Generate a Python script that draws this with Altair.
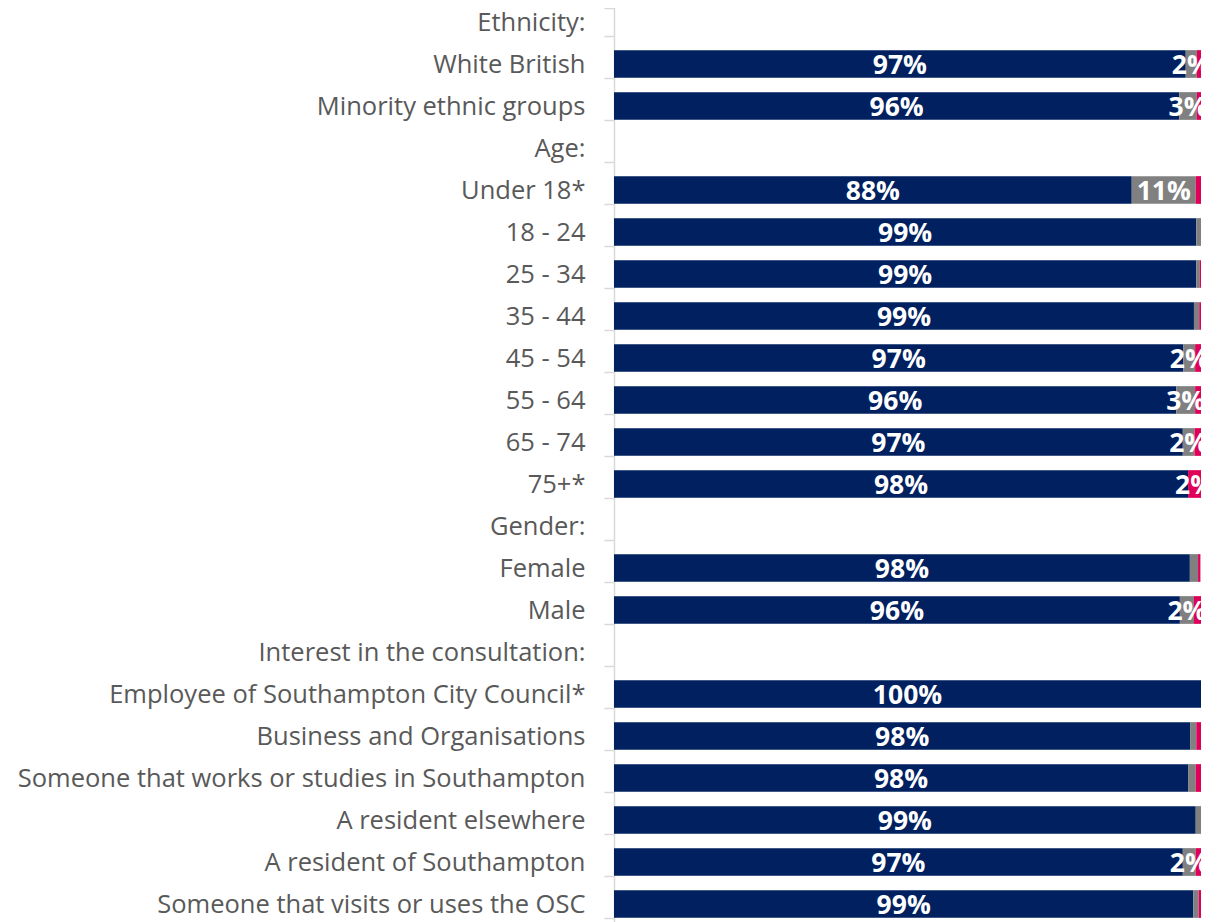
import altair as alt
import pandas as pd

categories = [
    "Ethnicity:", "White British", "Minority ethnic groups",
    "Age:", "Under 18*", "18 - 24", "25 - 34", "35 - 44", "45 - 54", "55 - 64", "65 - 74", "75+*",
    "Gender:", "Female", "Male ",
    "Interest in the consultation:", "Employee of Southampton City Council*", "Business and Organisations",
    "Someone that works or studies in Southampton", "A resident elsewhere", "A resident of Southampton",
    "Someone that visits or uses the OSC",
]
navy = [None, 97.4, 96.3, None, 88.2, 99.2, 99.2, 98.8, 97.0, 95.8, 96.9, 97.8,
        None, 98.1, 96.4, None, 100.0, 98.2, 97.8, 99.1, 96.9, 98.7]
gray = [None, 1.9, 3.0, None, 10.9, 0.8, 0.6, 0.9, 2.0, 3.2, 2.0, 0.0,
        None, 1.4, 2.4, None, 0.0, 1.0, 1.3, 0.9, 2.2, 0.9]
pink = [None, 0.7, 0.7, None, 0.9, 0.0, 0.2, 0.3, 1.0, 1.0, 1.1, 2.2,
        None, 0.4, 1.2, None, 0.0, 0.8, 0.9, 0.0, 0.9, 0.4]

seg_names = ["a", "b", "c"]
seg_colors = ["#002060", "#808080", "#E0005A"]

rows = []
for i, cat in enumerate(categories):
    if navy[i] is None:
        continue
    start = 0.0
    for k, vals in enumerate([navy, gray, pink]):
        v = vals[i]
        if v and v > 0:
            r = int(v + 0.5)
            label = f"{r}%" if (k == 0 or r >= 2) else ""
            rows.append({"cat": cat, "seg": seg_names[k], "order": k, "start": start,
                         "end": start + v, "mid": start + v / 2, "label": label})
            start += v
df = pd.DataFrame(rows)

FONT = "Open Sans"

y_enc = alt.Y("cat:N", sort=categories, scale=alt.Scale(domain=categories, paddingInner=0.34, paddingOuter=0.17),
              axis=alt.Axis(title=None, labelFont=FONT, labelFontSize=25.5, labelColor="#595959",
                            labelPadding=19, tickSize=10, tickBand="extent", tickColor="#d9d9d9",
                            domainColor="#d9d9d9", domainWidth=1.5, tickWidth=1.5, labelLimit=700))
x_scale = alt.Scale(domain=[0, 100], nice=False, zero=True)

bars = alt.Chart(df).mark_bar(stroke=None).encode(
    y=y_enc,
    x=alt.X("start:Q", scale=x_scale, axis=None),
    x2="end:Q",
    color=alt.Color("seg:N", scale=alt.Scale(domain=seg_names, range=seg_colors), legend=None),
)

texts = alt.Chart(df).mark_text(font=FONT, fontSize=26.5, fontWeight="bold", color="white",
                                clip=True, baseline="middle", dy=2).encode(
    y=alt.Y("cat:N", sort=categories),
    x=alt.X("mid:Q", scale=x_scale),
    text="label:N",
)

chart = (bars + texts).properties(
    width=587, height=22 * 42,
    autosize=alt.AutoSizeParams(type="none"),
    padding={"left": 606, "top": -7, "right": 8, "bottom": 0},
).configure_view(stroke=None)

chart.save("out.html", embed_options={"renderer": "svg", "actions": False})
